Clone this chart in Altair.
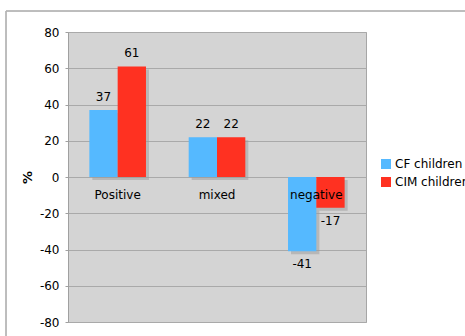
import altair as alt
import pandas as pd

categories = ["Positive", "mixed", "negative"]
series = ["CF children", "CIM children"]
cf_values = [37, 22, -41]
cim_values = [61, 22, -17]
colors = ["#55b9ff", "#ff3121"]
y_ticks = [-80, -60, -40, -20, 0, 20, 40, 60, 80]

rows = []
for c, a, b in zip(categories, cf_values, cim_values):
    rows.append({"cat": c, "series": series[0], "value": a, "label": str(a)})
    rows.append({"cat": c, "series": series[1], "value": b, "label": str(b)})
df = pd.DataFrame(rows)
cat_df = pd.DataFrame({"cat": categories, "zero": [0] * len(categories)})

FONT = "DejaVu Sans"
W, H = 298, 290

x_enc = alt.X("cat:N", sort=categories,
              scale=alt.Scale(paddingInner=0.43, paddingOuter=0.215),
              axis=None)
xo_enc = alt.XOffset("series:N", sort=series,
                     scale=alt.Scale(paddingInner=0, paddingOuter=0))
y_scale = alt.Scale(domain=[-80, 80], nice=False)
y_axis = alt.Axis(values=y_ticks, title="%", grid=True, labelOverlap=False,
                  labelExpr="toString(datum.value)",
                  gridColor="#a9a9a9", gridWidth=1,
                  domainColor="#a0a0a0", tickColor="#a0a0a0",
                  tickSize=3, labelPadding=6,
                  labelFont=FONT, labelFontSize=12, labelColor="#000000",
                  titleFont=FONT, titleFontSize=13, titleFontWeight="bold",
                  titleColor="#000000", titlePadding=5)
y_enc = alt.Y("value:Q", scale=y_scale, axis=y_axis)

base = alt.Chart(df)

bars = base.mark_bar().encode(
    x=x_enc, xOffset=xo_enc, y=y_enc,
    color=alt.Color("series:N", sort=series,
                    scale=alt.Scale(domain=series, range=colors),
                    legend=alt.Legend(title=None, orient="none",
                                      legendX=312, legendY=126,
                                      symbolType="square", symbolSize=100,
                                      symbolStrokeWidth=0, symbolOpacity=1,
                                      labelFont=FONT, labelFontSize=12,
                                      labelColor="#000000", labelOffset=3,
                                      rowPadding=6, padding=0)),
)

pos_labels = base.transform_filter("datum.value >= 0").mark_text(
    dy=-13, font=FONT, fontSize=12, color="#000000", baseline="middle"
).encode(x=x_enc, xOffset=xo_enc, y=y_enc, text="label:N")

neg_labels = base.transform_filter("datum.value < 0").mark_text(
    dy=13, font=FONT, fontSize=12, color="#000000", baseline="middle"
).encode(x=x_enc, xOffset=xo_enc, y=y_enc, text="label:N")

cat_labels = alt.Chart(cat_df).mark_text(
    dy=18, font=FONT, fontSize=12, color="#000000", baseline="middle"
).encode(x=x_enc, y=alt.Y("zero:Q", scale=y_scale, axis=y_axis), text="cat:N")

frame_left = alt.Chart(cat_df).mark_rule(color="#b4b4b4", strokeWidth=1).encode(
    x=alt.value(-62), y=alt.value(-21), y2=alt.value(320))
frame_top = alt.Chart(cat_df).mark_rule(color="#b4b4b4", strokeWidth=1).encode(
    x=alt.value(-62), x2=alt.value(400), y=alt.value(-21))

front = alt.layer(bars, pos_labels, neg_labels, cat_labels, frame_left, frame_top)

# drop shadow: same data through shifted scales
bandwidth = W / (3 - 0.43 + 0.43) * (1 - 0.43)
shadow = base.mark_bar(color="#9a9a9a", opacity=0.5).encode(
    x=x_enc,
    xOffset=alt.XOffset("series:N", sort=series,
                        scale=alt.Scale(paddingInner=0, paddingOuter=0,
                                        range=[3, 3 + bandwidth])),
    y=alt.Y("value:Q", scale=alt.Scale(domain=[-80, 80], nice=False, range=[H + 3, 3]),
            axis=None),
)

chart = alt.layer(shadow, front).resolve_scale(
    xOffset="independent", y="independent"
).properties(
    width=W, height=H,
    padding={"left": 68, "top": 32, "right": 99, "bottom": 14},
    autosize=alt.AutoSizeParams(type="none"),
    background="#ffffff",
).configure_view(
    fill="#d4d4d4", stroke="#a6a6a6", strokeWidth=1,
)

chart.save("out.html", embed_options={"renderer": "svg", "actions": False})
